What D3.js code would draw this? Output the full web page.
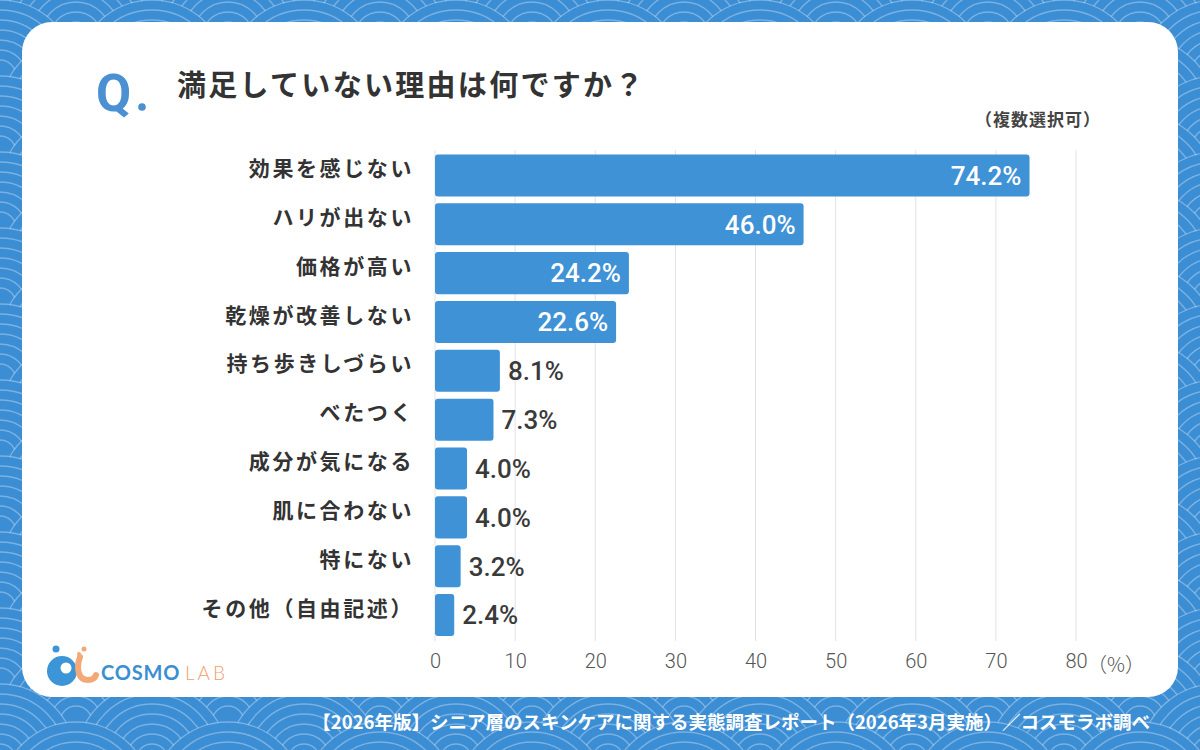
<!DOCTYPE html>
<html>
<head>
<meta charset="utf-8">
<script src="https://cdn.jsdelivr.net/npm/d3@7"></script>
<style>
  html, body { margin: 0; padding: 0; background: #3b8dd4; }
  svg { display: block; }
</style>
</head>
<body>
<svg id="chart" width="1200" height="750"></svg>
<script>
// ---- Data ----
const categories = ["効果を感じない", "ハリが出ない", "価格が高い", "乾燥が改善しない", "持ち歩きしづらい", "べたつく", "成分が気になる", "肌に合わない", "特にない", "その他（自由記述）"];
const values = [74.2, 46.0, 24.2, 22.6, 8.1, 7.3, 4.0, 4.0, 3.2, 2.4];
const tickValues = [0, 10, 20, 30, 40, 50, 60, 70, 80];
const titleText = "満足していない理由は何ですか？";
const noteText = "（複数選択可）";
const unitText = "（%）";
const footerText = "【2026年版】シニア層のスキンケアに関する実態調査レポート（2026年3月実施）／コスモラボ調べ";

const JP = "'Noto Sans CJK JP', 'Noto Sans', sans-serif";
const NUM = "Roboto, 'Noto Sans', sans-serif";
const BG = "#3b8dd4";
const BAR = "#3f92d6";

const svg = d3.select("#chart");

// ---- Background seigaiha pattern ----
const bg = svg.append("g");
bg.append("rect").attr("width", 1200).attr("height", 750).attr("fill", BG);
const R = 76, colW = 152, rowH = 38;
const ringRadii = d3.range(R, 6, -10);
for (let row = -1; row <= Math.ceil(750 / rowH) + 2; row++) {
  const off = (row % 2 === 0) ? 0 : colW / 2;
  for (let col = -1; col <= Math.ceil(1200 / colW) + 1; col++) {
    const cx = col * colW + off, cy = row * rowH;
    const g = bg.append("g");
    g.append("circle").attr("cx", cx).attr("cy", cy).attr("r", R).attr("fill", BG);
    ringRadii.forEach(r => {
      g.append("circle").attr("cx", cx).attr("cy", cy).attr("r", r)
        .attr("fill", "none").attr("stroke", "rgba(255,255,255,0.32)").attr("stroke-width", 1.4);
    });
  }
}

// ---- Card ----
svg.append("rect").attr("x", 22).attr("y", 22).attr("width", 1156).attr("height", 675)
  .attr("rx", 30).attr("fill", "#ffffff");

// ---- Title ----
svg.append("text").attr("x", 96).attr("y", 111).text("Q")
  .attr("font-family", NUM).attr("font-weight", 700).attr("font-size", 51).attr("fill", "#4a90d2");
svg.append("circle").attr("cx", 142).attr("cy", 107).attr("r", 3.8).attr("fill", "#4a90d2");
svg.append("text").attr("x", 177).attr("y", 96).text(titleText)
  .attr("font-family", JP).attr("font-weight", 700).attr("font-size", 29)
  .attr("letter-spacing", 2.3).attr("fill", "#333333");
svg.append("text").attr("x", 1101).attr("y", 126).text(noteText)
  .attr("text-anchor", "end")
  .attr("font-family", JP).attr("font-weight", 700).attr("font-size", 17)
  .attr("letter-spacing", 1).attr("fill", "#444444");

// ---- Scales ----
const x = d3.scaleLinear().domain([0, 80]).range([435, 1076]);
const y = d3.scaleBand().domain(categories).range([151, 639.5]).paddingInner(0.14).paddingOuter(0.07);

// gridlines
svg.append("g").selectAll("line").data(tickValues).join("line")
  .attr("x1", d => x(d)).attr("x2", d => x(d))
  .attr("y1", 150).attr("y2", 641)
  .attr("stroke", "#e2e2e6").attr("stroke-width", 1);

// x axis labels via d3 axis
const axisG = svg.append("g").attr("transform", "translate(0,650)")
  .call(d3.axisBottom(x).tickValues(tickValues).tickSize(0).tickPadding(0).tickFormat(d3.format("d")));
axisG.select(".domain").remove();
axisG.selectAll("text")
  .attr("font-family", NUM).attr("font-weight", 300).attr("font-size", 20)
  .attr("fill", "#555555").attr("dy", "0.88em");
svg.append("text").attr("x", x(80) + 11).attr("y", 672).text(unitText)
  .attr("font-family", JP).attr("font-weight", 300).attr("font-size", 20)
  .attr("fill", "#555555");

// bars
svg.append("g").selectAll("rect").data(values).join("rect")
  .attr("x", x(0))
  .attr("y", (d, i) => y(categories[i]))
  .attr("width", d => x(d) - x(0))
  .attr("height", y.bandwidth())
  .attr("rx", 3)
  .attr("fill", BAR);

// category labels
svg.append("g").selectAll("text").data(categories).join("text")
  .attr("x", 414)
  .attr("y", d => y(d) + y.bandwidth() / 2 - 7)
  .attr("dy", "0.36em")
  .attr("text-anchor", "end")
  .attr("font-family", JP).attr("font-weight", 700).attr("font-size", 21)
  .attr("letter-spacing", 2.6).attr("fill", "#333333")
  .text(d => d);

// value labels
const inside = d => d >= 20;
svg.append("g").selectAll("text").data(values).join("text")
  .attr("x", d => inside(d) ? x(d) - 8 : x(d) + 8)
  .attr("y", (d, i) => y(categories[i]) + y.bandwidth() / 2)
  .attr("dy", "0.36em")
  .attr("text-anchor", d => inside(d) ? "end" : "start")
  .attr("font-family", NUM).attr("font-weight", 500).attr("font-size", 26)
  .attr("fill", d => inside(d) ? "#ffffff" : "#3a3a3a")
  .text(d => d.toFixed(1) + "%");

// ---- Logo ----
const logo = svg.append("g");
logo.append("circle").attr("cx", 62).attr("cy", 671).attr("r", 15).attr("fill", "#3b95d6");
logo.append("circle").attr("cx", 66).attr("cy", 668).attr("r", 5.5).attr("fill", "#ffffff");
logo.append("circle").attr("cx", 56).attr("cy", 649).attr("r", 3.5).attr("fill", "#3b95d6");
logo.append("path").attr("d", "M80,657 C76,668 78,680 88,680 C92,680 95,678 96,675")
  .attr("fill", "none").attr("stroke", "#f2a877").attr("stroke-width", 6).attr("stroke-linecap", "round");
logo.append("circle").attr("cx", 84).attr("cy", 649).attr("r", 2.5).attr("fill", "#f2a877");
logo.append("circle").attr("cx", 79).attr("cy", 654).attr("r", 2).attr("fill", "#f2a877");
logo.append("text").attr("x", 101).attr("y", 680).text("COSMO")
  .attr("font-family", "Lato, sans-serif").attr("font-weight", 700).attr("font-size", 20)
  .attr("letter-spacing", 0.8).attr("fill", "#3a8fd2");
logo.append("text").attr("x", 185).attr("y", 680).text("LAB")
  .attr("font-family", "Lato, sans-serif").attr("font-weight", 300).attr("font-size", 19)
  .attr("letter-spacing", 3).attr("fill", "#f0a070");

// ---- Footer ----
svg.append("text").attr("x", 1150).attr("y", 729).text(footerText)
  .attr("text-anchor", "end")
  .attr("font-family", JP).attr("font-weight", 700).attr("font-size", 18.5)
  .attr("fill", "#ffffff");
</script>
</body>
</html>
